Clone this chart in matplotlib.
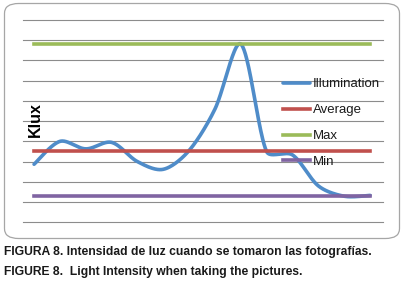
import numpy as np
import matplotlib.pyplot as plt
from matplotlib.patches import FancyBboxPatch

plt.rcParams['font.family'] = ['Liberation Sans', 'DejaVu Sans']

# illumination readings (Klux), one per photo
illumination = [2.87, 4.00, 3.63, 3.95, 3.00, 2.62, 3.55, 5.60, 8.81, 3.49, 3.33, 1.80, 1.29, 1.33]
series_names = ['Illumination', 'Average', 'Max', 'Min']
colors = ['#4F8CC9', '#C0504D', '#9BBB59', '#8064A2']

x = np.arange(len(illumination))
y = np.array(illumination, dtype=float)
avg = y.mean()
ymax = y.max()
ymin = y.min()


def smooth(xs, ys, sx=25.85, sy=20.23, n=40):
    # spreadsheet-style smoothed line: catmull-rom bezier, arms shortened
    # next to short segments (measured on screen, sx/sy = px per unit)
    P = np.column_stack([np.asarray(xs) * sx, np.asarray(ys) * sy])
    m = len(P)
    seg = np.linalg.norm(np.diff(P, axis=0), axis=1)
    t = np.linspace(0, 1, n)[:, None]
    out = []

    def arms(i):
        a = P[max(i - 1, 0)]
        b = P[min(i + 1, m - 1)]
        d = (b - a) / 6
        s_in = seg[i - 1] if i > 0 else seg[i]
        s_out = seg[i] if i < m - 1 else seg[i - 1]
        k_out = min(1, 2 * s_out / (s_in + s_out))
        k_in = min(1, 2 * s_in / (s_in + s_out))
        return d * k_in, d * k_out

    for i in range(m - 1):
        p0, p3 = P[i], P[i + 1]
        p1 = p0 + arms(i)[1]
        p2 = p3 - arms(i + 1)[0]
        b = (1 - t) ** 3 * p0 + 3 * (1 - t) ** 2 * t * p1 + 3 * (1 - t) * t ** 2 * p2 + t ** 3 * p3
        out.append(b)
    out = np.vstack(out)
    return out[:, 0] / sx, out[:, 1] / sy


fig = plt.figure(figsize=(4.04, 2.81), dpi=100)

box = FancyBboxPatch((4.5 / 404, 1 - 238.5 / 281), 395 / 404, 235 / 281,
                     boxstyle='round,pad=0,rounding_size=0.035',
                     transform=fig.transFigure, facecolor='white',
                     edgecolor='#A6A6A6', linewidth=0.9, zorder=-5)
fig.patches.append(box)

ax = fig.add_axes([22.7 / 404, 1 - 222.3 / 281, 360 / 404, 202.3 / 281])
ax.set_zorder(1)
ax.set_facecolor('none')
for s in ax.spines.values():
    s.set_visible(False)
ax.set_xlim(-0.44, len(x) - 1 + 0.49)
ax.set_ylim(0, 10)
ax.set_yticks(np.arange(0, 11, 1))
ax.set_xticks([])
ax.tick_params(left=False, labelleft=False)
ax.grid(axis='y', color='#8C8C8C', linewidth=0.8)
for gl in ax.get_ygridlines():
    gl.set_clip_on(False)
ax.set_axisbelow(True)

sx, sy = smooth(x, y)
ax.plot(sx, sy, color=colors[0], lw=2.6, label=series_names[0], solid_capstyle='round')
ax.plot(x, np.full(len(x), avg), color=colors[1], lw=2.6, label=series_names[1])
ax.plot(x, np.full(len(x), ymax), color=colors[2], lw=2.6, label=series_names[2])
ax.plot(x, np.full(len(x), ymin), color=colors[3], lw=2.6, label=series_names[3])

ax.legend(loc='upper left', bbox_to_anchor=(0.7222, 0.712), frameon=False,
          fontsize=9.5, handlelength=2.07, handletextpad=0.2, labelspacing=1.03,
          borderaxespad=0, borderpad=0, labelcolor='#1a1a1a')

fig.text(35 / 404, 1 - 120 / 281, 'Klux', rotation=90, fontsize=11.5,
         fontweight='bold', ha='center', va='center')

fig.text(4 / 404, 1 - 251.5 / 281, 'FIGURA 8. Intensidad de luz cuando se tomaron las fotografías.',
         fontsize=8.7, fontweight='bold', ha='left', va='center', color='#1a1a1a')
fig.text(4 / 404, 1 - 272 / 281, 'FIGURE 8.  Light Intensity when taking the pictures.',
         fontsize=8.7, fontweight='bold', ha='left', va='center', color='#1a1a1a')

plt.savefig('out.png', dpi=100)
